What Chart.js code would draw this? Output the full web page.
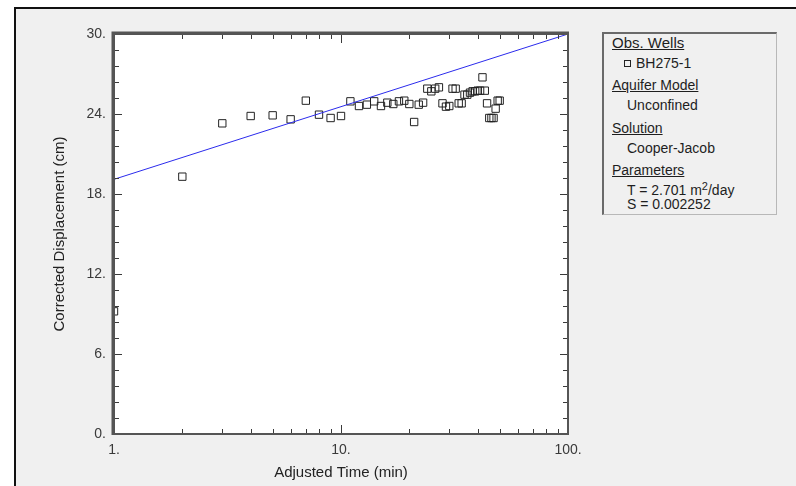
<!DOCTYPE html>
<html>
<head>
<meta charset="utf-8">
<script src="https://cdn.jsdelivr.net/npm/chart.js@4.4.1/dist/chart.umd.min.js"></script>
<style>
    body { margin: 0; background: #ffffff; font-family: "Liberation Sans", Arial, sans-serif; }
    #wrap { position: relative; width: 796px; height: 486px; overflow: hidden; }
    #frame { position: absolute; left: 14px; top: 7px; width: 800px; height: 500px;
             border-left: 2px solid #111; border-top: 2px solid #111; background: #f0f0f0; }
    #chart { position: absolute; left: 0; top: 0; }
    #legendBox { position: absolute; left: 602px; top: 32px; width: 172px; height: 180px;
                 background: #f0f0f0; border-top: 2px solid #6a6a6a; border-left: 2px solid #6a6a6a;
                 border-right: 1px solid #b8b8b8; border-bottom: 1px solid #b8b8b8; }
    .lg { position: absolute; font-size: 14px; line-height: 16px; color: #1e1e1e; white-space: nowrap; }
    .hd { text-decoration: underline; }
    .sq { position: absolute; width: 5px; height: 5px; border: 1px solid #222; }
</style>
</head>
<body>
<div id="wrap">
    <div id="frame"></div>
    <canvas id="chart" width="796" height="486"></canvas>
    <div id="legendBox">
        <span class="lg hd" style="left:8px; top:1px; font-size:15px;">Obs. Wells</span>
        <span class="sq" style="left:20px; top:26px;"></span>
        <span class="lg" style="left:32px; top:21px;">BH275-1</span>
        <span class="lg hd" style="left:8px; top:43px;">Aquifer Model</span>
        <span class="lg" style="left:23px; top:63px;">Unconfined</span>
        <span class="lg hd" style="left:8px; top:86px;">Solution</span>
        <span class="lg" style="left:23px; top:106px;">Cooper-Jacob</span>
        <span class="lg hd" style="left:8px; top:128px;">Parameters</span>
        <span class="lg" style="left:23px; top:148px;">T = 2.701 m<sup style="font-size:11px; vertical-align:5px; line-height:0;">2</sup>/day</span>
        <span class="lg" style="left:23px; top:162px;">S = 0.002252</span>
    </div>
</div>
<script>
// Observed data (BH275-1)
const times = [1, 2, 3, 4, 5, 6, 7, 8, 9, 10,
    11, 12, 13, 14, 15, 16, 17, 18, 19, 20,
    21, 22, 23, 24, 25, 26, 27, 28, 29, 30,
    31, 32, 33, 34, 35, 36, 37, 38, 39, 40,
    41, 42, 43, 44, 45, 46, 47, 48, 49, 50];
const displacement = [9.2, 19.3, 23.3, 23.85, 23.9, 23.6, 25.0, 23.95, 23.7, 23.85,
    24.95, 24.6, 24.7, 24.95, 24.6, 24.85, 24.75, 24.95, 25.0, 24.75,
    23.4, 24.7, 24.85, 25.9, 25.7, 25.9, 26.0, 24.8, 24.55, 24.6,
    25.9, 25.9, 24.8, 24.8, 25.45, 25.45, 25.6, 25.7, 25.7, 25.75,
    25.75, 26.75, 25.75, 24.8, 23.7, 23.7, 23.7, 24.4, 25.0, 25.0];

// Cooper-Jacob straight line fit
const fitTimes = [1, 100];
const fitValues = [19.1, 30.0];

// Axis ticks
const xTicks = [1, 2, 3, 4, 5, 6, 7, 8, 9, 10, 20, 30, 40, 50, 60, 70, 80, 90, 100];
const xLabeled = [1, 10, 100];
const yMajorStep = 6;
const yMinorStep = 1.2;

function isYMajor(v) {
    const r = v / yMajorStep;
    return Math.abs(r - Math.round(r)) < 1e-6;
}

// White plot area, frame and inward ticks like the original software
const frameTicks = {
    id: 'frameTicks',
    beforeDraw(chart) {
        const { ctx, chartArea: a } = chart;
        ctx.save();
        ctx.fillStyle = '#ffffff';
        ctx.fillRect(a.left, a.top, a.right - a.left, a.bottom - a.top);
        ctx.restore();
    },
    afterDatasetsDraw(chart) {
        const { ctx, chartArea: a, scales: { x, y } } = chart;
        ctx.save();
        ctx.strokeStyle = '#3a3a3a';
        ctx.lineWidth = 1;
        ctx.beginPath();
        x.ticks.forEach(t => {
            const px = Math.round(x.getPixelForValue(t.value)) + 0.5;
            const len = xLabeled.includes(t.value) ? 9 : 5;
            ctx.moveTo(px, a.bottom);
            ctx.lineTo(px, a.bottom - len);
            ctx.moveTo(px, a.top);
            ctx.lineTo(px, a.top + len);
        });
        y.ticks.forEach(t => {
            const py = Math.round(y.getPixelForValue(t.value)) + 0.5;
            const len = isYMajor(t.value) ? 8 : 5;
            ctx.moveTo(a.left, py);
            ctx.lineTo(a.left + len, py);
            ctx.moveTo(a.right, py);
            ctx.lineTo(a.right - len, py);
        });
        ctx.stroke();

        // frame: heavier on top and left
        ctx.strokeStyle = '#555555';
        ctx.lineWidth = 2;
        ctx.strokeRect(a.left, a.top, a.right - a.left, a.bottom - a.top);
        ctx.lineWidth = 3;
        ctx.beginPath();
        ctx.moveTo(a.left - 1, a.bottom + 1);
        ctx.lineTo(a.left - 1, a.top - 1);
        ctx.lineTo(a.right + 1, a.top - 1);
        ctx.stroke();
        ctx.restore();
    }
};

const ctx = document.getElementById('chart').getContext('2d');

new Chart(ctx, {
    type: 'scatter',
    data: {
        datasets: [{
            label: 'BH275-1',
            data: times.map((t, i) => ({ x: t, y: displacement[i] })),
            pointStyle: 'rect',
            pointRadius: 5.2,
            pointBorderWidth: 1,
            pointBorderColor: '#222222',
            pointBackgroundColor: 'rgba(0,0,0,0)',
            showLine: false,
            clip: 0,
            order: 2
        }, {
            label: 'Cooper-Jacob',
            data: fitTimes.map((t, i) => ({ x: t, y: fitValues[i] })),
            showLine: true,
            borderColor: '#2b2bec',
            borderWidth: 1,
            pointRadius: 0,
            clip: 0,
            order: 1
        }]
    },
    options: {
        responsive: false,
        animation: false,
        events: [],
        layout: {
            padding: { left: 0, top: 34, right: 228, bottom: 0 }
        },
        scales: {
            x: {
                type: 'logarithmic',
                min: 1,
                max: 100,
                afterBuildTicks: scale => {
                    scale.ticks = xTicks.map(v => ({ value: v }));
                },
                afterFit: scale => { scale.height = 52; },
                grid: { display: false, drawTicks: false },
                border: { display: false },
                ticks: {
                    autoSkip: false,
                    maxRotation: 0,
                    padding: 8,
                    color: '#3a3a3a',
                    font: { family: 'Liberation Sans', size: 14 },
                    callback: v => xLabeled.includes(v) ? v + '.' : ''
                },
                title: {
                    display: true,
                    text: 'Adjusted Time (min)',
                    color: '#222222',
                    font: { family: 'Liberation Sans', size: 15 },
                    padding: { top: 0, bottom: 4 }
                }
            },
            y: {
                min: 0,
                max: 30,
                afterFit: scale => { scale.width = 114; },
                grid: { display: false, drawTicks: false },
                border: { display: false },
                ticks: {
                    stepSize: yMinorStep,
                    autoSkip: false,
                    padding: 8,
                    color: '#3a3a3a',
                    font: { family: 'Liberation Sans', size: 14 },
                    callback: v => isYMajor(v) ? Math.round(v) + '.' : ''
                },
                title: {
                    display: true,
                    text: 'Corrected Displacement (cm)',
                    color: '#222222',
                    font: { family: 'Liberation Sans', size: 15 },
                    padding: { top: 51, bottom: 0 }
                }
            }
        },
        plugins: {
            legend: { display: false },
            tooltip: { enabled: false }
        }
    },
    plugins: [frameTicks]
});
</script>
</body>
</html>
